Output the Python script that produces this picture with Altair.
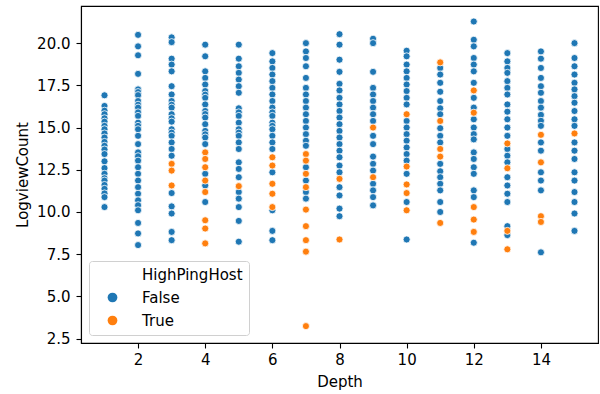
import altair as alt
import pandas as pd

# LogviewCount values per Depth, split by HighPingHost
false_1 = [16.91, 16.28, 16.0, 15.79, 15.55, 15.35, 15.1, 14.9, 14.65, 14.41, 14.15, 13.92, 13.7, 13.43, 13.0, 12.6, 12.26, 12.0, 11.86, 11.6, 11.37, 11.1, 10.88, 10.29]
true_1 = []
false_2 = [20.49, 19.81, 19.28, 18.18, 17.26, 17.1, 16.92, 16.57, 16.35, 16.18, 15.9, 15.69, 15.29, 15.1, 14.9, 14.51, 14.02, 13.53, 13.3, 13.04, 12.65, 12.26, 11.86, 11.47, 11.08, 10.69, 10.4, 10.1, 9.35, 8.73, 8.04]
true_2 = []
false_3 = [20.34, 20.06, 19.08, 18.73, 18.33, 17.45, 16.96, 16.57, 16.35, 16.18, 15.79, 15.55, 15.35, 14.9, 14.7, 14.51, 14.12, 13.73, 13.33, 11.12, 10.33, 9.91, 8.82, 8.33]
true_3 = [12.85, 12.45, 11.57]
false_4 = [19.91, 19.22, 18.33, 17.94, 17.55, 17.16, 16.95, 16.76, 16.37, 15.98, 15.8, 15.59, 15.2, 14.8, 14.6, 14.41, 14.02, 12.26, 11.57, 10.59]
true_4 = [13.53, 13.14, 12.65, 11.86, 11.18, 9.51, 9.02, 8.14]
false_5 = [19.91, 19.08, 18.63, 18.24, 17.84, 17.45, 17.06, 16.14, 15.9, 15.69, 15.29, 14.9, 14.7, 14.51, 14.12, 13.73, 12.94, 12.55, 12.06, 11.18, 10.79, 10.29, 9.47, 8.24]
true_5 = [11.53]
false_6 = [19.41, 18.92, 18.53, 18.14, 17.75, 17.35, 16.96, 16.57, 16.18, 15.9, 15.69, 15.29, 15.1, 14.9, 14.51, 14.12, 13.73, 12.35, 10.1, 8.88, 8.33]
true_6 = [13.24, 12.75, 11.67, 11.08, 10.29]
false_7 = [20.0, 19.51, 19.12, 18.63, 17.94, 17.35, 16.96, 16.57, 16.18, 15.79, 15.39, 15.0, 14.61, 14.22, 13.92, 12.65, 11.86, 11.18, 10.79]
true_7 = [13.43, 13.04, 12.26, 11.47, 10.14, 9.16, 8.33, 7.65, 3.24]
false_8 = [20.53, 19.91, 19.02, 18.3, 17.59, 17.2, 16.76, 16.37, 15.98, 15.59, 15.2, 14.8, 14.41, 14.02, 13.63, 13.24, 12.75, 12.35, 11.47, 10.98, 10.2, 9.75]
true_8 = [11.96, 8.37]
false_9 = [20.26, 20.0, 18.3, 17.35, 16.96, 16.57, 16.18, 15.79, 15.39, 14.51, 14.02, 13.28, 12.85, 12.45, 11.67, 11.28, 10.88, 10.39]
true_9 = [15.0, 12.06]
false_10 = [19.55, 19.22, 18.73, 18.33, 17.94, 17.55, 17.16, 16.76, 16.37, 15.39, 15.0, 14.61, 14.22, 13.82, 13.43, 13.04, 12.26, 10.59, 8.37]
true_10 = [15.79, 12.69, 11.63, 11.12, 10.1]
false_11 = [18.53, 18.14, 17.65, 17.12, 16.57, 16.14, 15.79, 14.96, 14.51, 14.12, 12.85, 12.41, 12.06, 11.67, 11.28, 10.59, 10.0]
true_11 = [18.86, 15.39, 13.73, 13.28, 9.35]
false_12 = [21.28, 20.2, 19.81, 19.12, 18.73, 18.33, 17.65, 16.76, 16.18, 15.49, 15.0, 14.61, 14.3, 13.53, 13.14, 12.65, 12.26, 11.28, 10.88, 8.18]
true_12 = [17.2, 15.88, 10.29, 9.55, 8.82]
false_13 = [19.41, 18.92, 18.53, 18.24, 17.75, 17.35, 16.96, 16.37, 15.94, 15.49, 15.0, 14.51, 13.73, 13.33, 12.94, 12.06, 11.57, 11.08, 10.59, 9.16, 8.63]
true_13 = [14.06, 12.59, 8.88, 7.79]
false_14 = [19.51, 19.08, 18.53, 17.94, 17.45, 17.06, 16.57, 16.18, 15.75, 15.4, 15.1, 14.12, 13.63, 12.35, 11.86, 11.28, 7.61]
true_14 = [14.57, 12.94, 9.75, 9.41]
false_15 = [20.0, 19.12, 18.63, 18.14, 17.65, 17.26, 16.86, 16.47, 15.98, 15.49, 15.1, 14.12, 13.63, 13.14, 12.35, 11.86, 11.18, 10.59, 9.91, 8.88]
true_15 = [14.65]

x_ticks = [2, 4, 6, 8, 10, 12, 14]
y_ticks = [2.5, 5.0, 7.5, 10.0, 12.5, 15.0, 17.5, 20.0]
legend_entries = ["HighPingHost", "False", "True"]
legend_colors = ["rgba(255,255,255,0)", "#1f77b4", "#ff7f0e"]

falses = [false_1, false_2, false_3, false_4, false_5, false_6, false_7, false_8,
          false_9, false_10, false_11, false_12, false_13, false_14, false_15]
trues = [true_1, true_2, true_3, true_4, true_5, true_6, true_7, true_8,
         true_9, true_10, true_11, true_12, true_13, true_14, true_15]

rows = []
for d, vals in enumerate(falses, start=1):
    for v in vals:
        rows.append({"Depth": d, "LogviewCount": v, "HighPingHost": "False"})
for d, vals in enumerate(trues, start=1):
    for v in vals:
        rows.append({"Depth": d, "LogviewCount": v, "HighPingHost": "True"})
df = pd.DataFrame(rows)

font = "DejaVu Sans"
fs = 15

chart = alt.Chart(df).mark_circle(
    size=50, opacity=1, stroke="white", strokeWidth=0.8
).encode(
    x=alt.X("Depth:Q", scale=alt.Scale(domain=[0.3, 15.7], nice=False, zero=False),
            axis=alt.Axis(values=x_ticks, format="d", title="Depth")),
    y=alt.Y("LogviewCount:Q", scale=alt.Scale(domain=[2.24, 22.2], nice=False, zero=False),
            axis=alt.Axis(values=y_ticks, format=".1f", title="LogviewCount")),
    color=alt.Color("HighPingHost:N",
                    scale=alt.Scale(domain=legend_entries, range=legend_colors),
                    legend=alt.Legend(
                        title=None, orient="none", legendX=8, legendY=255,
                        symbolType="circle", symbolSize=95, symbolStrokeWidth=0,
                        symbolOffset=10, labelOffset=22, padding=6,
                        rowPadding=7, labelFont=font, labelFontSize=fs,
                        labelColor="black", fillColor="rgba(255,255,255,0.8)",
                        strokeColor="#d0d0d0", cornerRadius=3,
                        symbolOpacity=1)),
).properties(
    width=517, height=337,
    padding={"left": 81, "top": 6, "right": 2, "bottom": 51},
    autosize=alt.AutoSizeParams(type="none"),
).configure_view(
    stroke="black", strokeWidth=1.1
).configure_axis(
    grid=False, domainColor="black", domainWidth=1.1, tickColor="black",
    tickWidth=1.1, tickSize=5, labelFont=font, labelFontSize=fs,
    labelColor="black", titleFont=font, titleFontSize=fs, titleColor="black",
    titleFontWeight="normal"
).configure_axisX(
    labelPadding=4, titlePadding=7
).configure_axisY(
    labelPadding=6, titlePadding=6
)

chart.save("out.html", embed_options={"renderer": "svg", "actions": False})
